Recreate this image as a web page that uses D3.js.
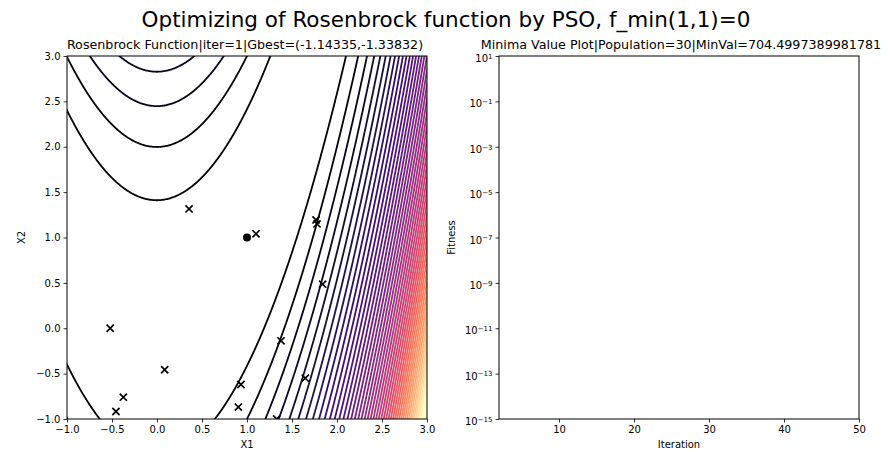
<!DOCTYPE html>
<html>
<head>
<meta charset="utf-8">
<script src="https://cdnjs.cloudflare.com/ajax/libs/d3/7.8.5/d3.min.js"></script>
<style>
  body { margin: 0; background: #fff; }
  text { font-family: "DejaVu Sans", sans-serif; fill: #000; }
</style>
</head>
<body>
<script>
// particle positions at iter=1
const partX1 = [0.356, 1.10, 1.767, 1.778, 1.84, 1.378, 1.648, 0.933, 0.904, 1.33, -0.52, 0.085, -0.374, -0.456];
const partX2 = [1.315, 1.04, 1.194, 1.15, 0.486, -0.139, -0.55, -0.62, -0.869, -1.0, 0.0, -0.458, -0.759, -0.917];
const fmin = [1, 1];

// contour levels (step 200)
const levels = d3.range(200, 10001, 200);

const leftXTicks = [-1.0, -0.5, 0.0, 0.5, 1.0, 1.5, 2.0, 2.5, 3.0];
const leftYTicks = [-1.0, -0.5, 0.0, 0.5, 1.0, 1.5, 2.0, 2.5, 3.0];
const iterTicks = [10, 20, 30, 40, 50];
const fitExps = [1, -1, -3, -5, -7, -9, -11, -13, -15];

const W = 893, H = 452;
const svg = d3.select("body").append("svg").attr("width", W).attr("height", H);

svg.append("text").attr("x", 446).attr("y", 27).attr("text-anchor", "middle")
  .style("font-size", "21.5px").text("Optimizing of Rosenbrock function by PSO, f_min(1,1)=0");

// ---------- left panel ----------
const L = {x0: 67, x1: 427, y0: 56, y1: 419};
const x = d3.scaleLinear().domain([-1, 3]).range([L.x0, L.x1]);
const y = d3.scaleLinear().domain([-1, 3]).range([L.y1, L.y0]);

svg.append("clipPath").attr("id", "clipL").append("rect")
  .attr("x", L.x0).attr("y", L.y0).attr("width", L.x1 - L.x0).attr("height", L.y1 - L.y0);

const rosen = (a, b) => (1 - a) * (1 - a) + 100 * (b - a * a) * (b - a * a);
const n = 420, gx0 = -1.1, gx1 = 3.1, gy0 = -1.1, gy1 = 3.1;
const dx = (gx1 - gx0) / (n - 1), dy = (gy1 - gy0) / (n - 1);
const grid = new Float64Array(n * n);
for (let j = 0; j < n; j++) {
  const b = gy1 - j * dy;
  for (let i = 0; i < n; i++) grid[j * n + i] = rosen(gx0 + i * dx, b);
}
const contours = d3.contours().size([n, n]).thresholds(levels)(grid);
const toScreen = d3.geoTransform({
  point: function (gx, gy) {
    this.stream.point(x(gx0 + (gx - 0.5) * dx), y(gy1 - (gy - 0.5) * dy));
  }
});
const cpath = d3.geoPath(toScreen);
const color = v => d3.interpolateMagma(Math.min(1, (v - levels[0]) / 9200));

const gL = svg.append("g").attr("clip-path", "url(#clipL)");
gL.selectAll("path.c").data(contours).enter().append("path")
  .attr("class", "c")
  .attr("d", cpath)
  .attr("fill", "none")
  .attr("stroke", d => color(d.value))
  .attr("stroke-width", 1.8);

const xsz = 3.6;
gL.selectAll("path.m").data(partX1).enter().append("path")
  .attr("class", "m")
  .attr("d", (d, i) => {
    const cx = x(d), cy = y(partX2[i]);
    return `M${cx - xsz},${cy - xsz}L${cx + xsz},${cy + xsz}M${cx - xsz},${cy + xsz}L${cx + xsz},${cy - xsz}`;
  })
  .attr("stroke", "#000").attr("stroke-width", 1.7).attr("fill", "none");

gL.append("circle").attr("cx", x(fmin[0])).attr("cy", y(fmin[1])).attr("r", 4).attr("fill", "#000");

svg.append("g").attr("transform", `translate(0,${L.y1})`)
  .call(d3.axisBottom(x).tickValues(leftXTicks).tickSize(3.5).tickPadding(3)
    .tickFormat(d => d3.format(".1f")(d).replace("-", "\u2212")))
  .call(g => g.select(".domain").remove());
svg.append("g").attr("transform", `translate(${L.x0},0)`)
  .call(d3.axisLeft(y).tickValues(leftYTicks).tickSize(3.5).tickPadding(3)
    .tickFormat(d => d3.format(".1f")(d).replace("-", "\u2212")))
  .call(g => g.select(".domain").remove());
svg.append("rect").attr("x", L.x0).attr("y", L.y0).attr("width", L.x1 - L.x0).attr("height", L.y1 - L.y0)
  .attr("fill", "none").attr("stroke", "#000").attr("stroke-width", 1);

svg.append("text").attr("x", (L.x0 + L.x1) / 2 - 2).attr("y", 48.5).attr("text-anchor", "middle")
  .style("font-size", "12.7px").text("Rosenbrock Function|iter=1|Gbest=(-1.14335,-1.33832)");
svg.append("text").attr("x", (L.x0 + L.x1) / 2).attr("y", 448).attr("text-anchor", "middle")
  .style("font-size", "10px").text("X1");
svg.append("text").attr("transform", `translate(25,${(L.y0 + L.y1) / 2}) rotate(-90)`).attr("text-anchor", "middle")
  .style("font-size", "10px").text("X2");

// ---------- right panel ----------
const R = {x0: 499, x1: 859, y0: 56, y1: 419};
const xi = d3.scaleLinear().domain([2, 50]).range([R.x0, R.x1]);
const yf = d3.scaleLog().domain([1e-15, 1e1]).range([R.y1, R.y0]);

svg.append("g").attr("transform", `translate(0,${R.y1})`)
  .call(d3.axisBottom(xi).tickValues(iterTicks).tickSize(3.5).tickPadding(3).tickFormat(d3.format("d")))
  .call(g => g.select(".domain").remove());
const gy = svg.append("g").attr("transform", `translate(${R.x0},0)`)
  .call(d3.axisLeft(yf).tickValues(fitExps.map(e => Math.pow(10, e))).tickSize(3.5).tickPadding(3).tickFormat(""))
  .call(g => g.select(".domain").remove());
gy.selectAll(".tick").each(function (d, i) {
  const t = d3.select(this).select("text").text(null).attr("dy", "0.55em");
  t.append("tspan").text("10");
  t.append("tspan").attr("dy", "-0.45em").style("font-size", "7px").text(String(fitExps[i]).replace("-", "\u2212"));
});
svg.append("rect").attr("x", R.x0).attr("y", R.y0).attr("width", R.x1 - R.x0).attr("height", R.y1 - R.y0)
  .attr("fill", "none").attr("stroke", "#000").attr("stroke-width", 1);

svg.append("text").attr("x", (R.x0 + R.x1) / 2 + 2).attr("y", 48.5).attr("text-anchor", "middle")
  .style("font-size", "12.7px").text("Minima Value Plot|Population=30|MinVal=704.4997389981781");
svg.append("text").attr("x", (R.x0 + R.x1) / 2).attr("y", 448).attr("text-anchor", "middle")
  .style("font-size", "10px").text("Iteration");
svg.append("text").attr("transform", `translate(455,${(R.y0 + R.y1) / 2}) rotate(-90)`).attr("text-anchor", "middle")
  .style("font-size", "10px").text("Fitness");

svg.selectAll(".tick text").style("font-size", "10px").style("font-family", "DejaVu Sans");
svg.selectAll(".tick line").attr("stroke", "#000").attr("stroke-width", 0.8);
</script>
</body>
</html>
